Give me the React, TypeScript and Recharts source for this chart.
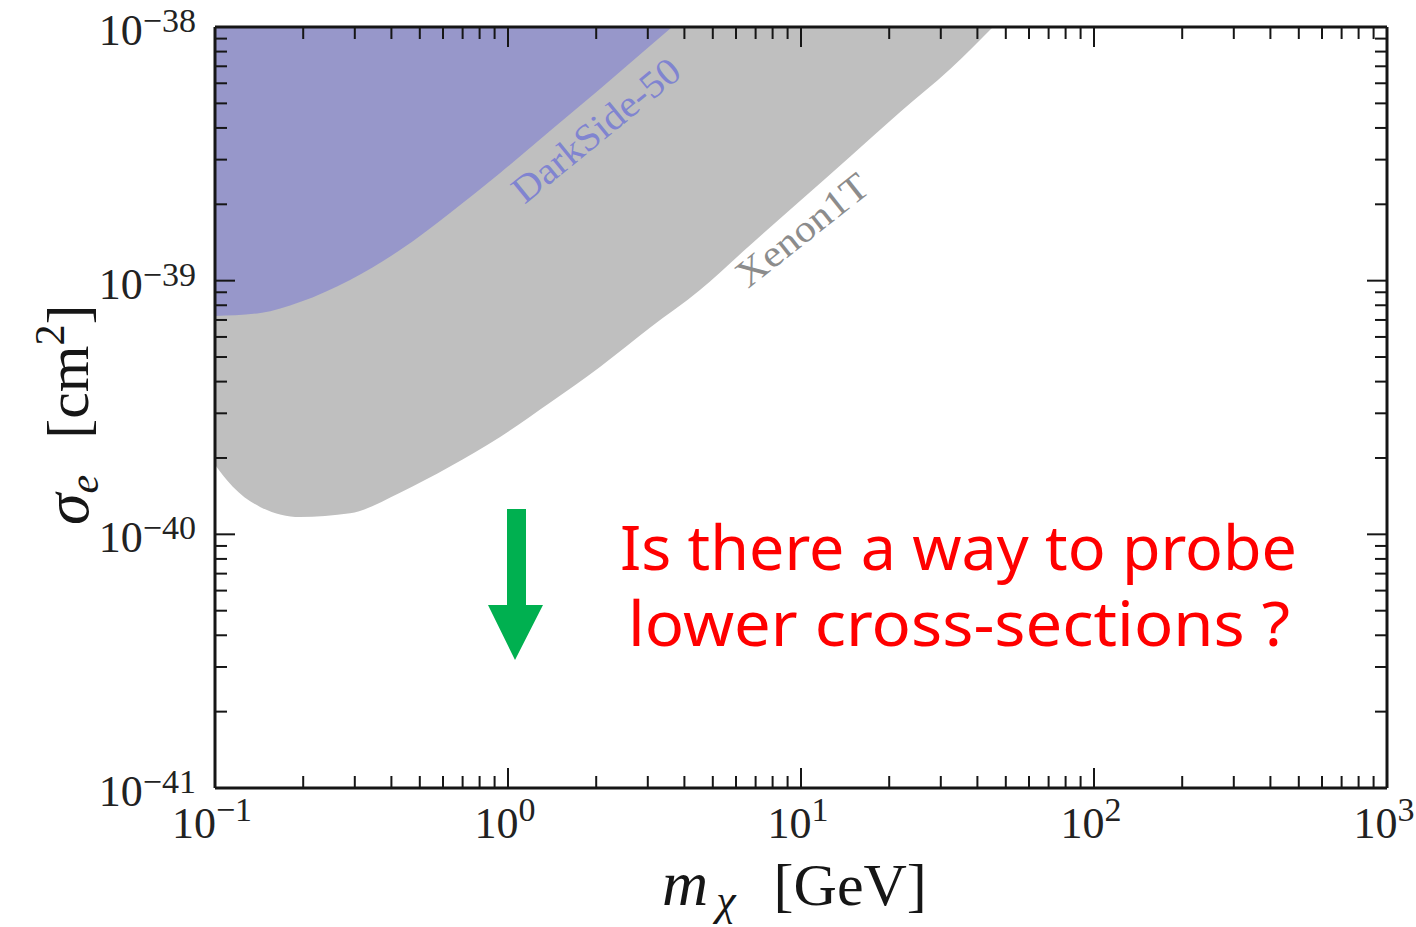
import React from 'react';
import { ComposedChart, Area, XAxis, YAxis } from 'recharts';

// ---- data ----
const darkSideMass = [0.1, 0.143, 0.195, 0.289, 0.428, 0.634, 0.94, 1.39, 2.06, 3.05, 3.63];
const darkSideSigma = [7.26e-40, 7.46e-40, 8.24e-40, 1.007e-39, 1.32e-39, 1.85e-39, 2.66e-39, 3.89e-39, 5.7e-39, 8.41e-39, 1e-38];

const xenonMass = [0.1, 0.115, 0.143, 0.195, 0.289, 0.428, 0.634, 0.94, 1.39, 2.06, 3.05, 4.52, 6.7, 9.92, 14.7, 21.8, 32.3, 45.2];
const xenonSigma = [1.88e-40, 1.54e-40, 1.28e-40, 1.17e-40, 1.21e-40, 1.46e-40, 1.85e-40, 2.42e-40, 3.3e-40, 4.57e-40, 6.52e-40, 9.18e-40, 1.38e-39, 2.06e-39, 3.08e-39, 4.62e-39, 6.83e-39, 1e-38];

const xDomain = [0.1, 1000];
const yDomain = [1e-41, 1e-38];

const xMajor = [0.1, 1, 10, 100, 1000];
const xMajorLabels = ['\u22121', '0', '1', '2', '3'];
const yMajor = [1e-41, 1e-40, 1e-39, 1e-38];
const yMajorLabels = ['\u221241', '\u221240', '\u221239', '\u221238'];
const minorMultipliers = [2, 3, 4, 5, 6, 7, 8, 9];

const xTicks = [
  ...xMajor,
  ...xMajor.slice(0, -1).flatMap((d) => minorMultipliers.map((k) => d * k)),
].sort((a, b) => a - b);
const yTicks = [
  ...yMajor,
  ...yMajor.slice(0, -1).flatMap((d) => minorMultipliers.map((k) => d * k)),
].sort((a, b) => a - b);

const yTop = yDomain[1];
const xenonData = xenonMass.map((m, i) => ({ m, band: [xenonSigma[i], yTop] }));
const darkSideData = darkSideMass.map((m, i) => ({ m, band: [darkSideSigma[i], yTop] }));

const SERIF = "'Liberation Serif', 'Times New Roman', serif";
const INK = '#161616';
const LABEL_INK = '#222222';

const findMajor = (arr: number[], v: number) =>
  arr.findIndex((a) => Math.abs(a - v) / a < 1e-6);

const makeXTick = (side: 'bottom' | 'top') => (props: any) => {
  const { x, y, payload } = props;
  const idx = findMajor(xMajor, payload.value);
  const major = idx >= 0;
  const len = major ? 20 : 12;
  const dir = side === 'bottom' ? -1 : 1;
  return (
    <g>
      <line x1={x} y1={y} x2={x} y2={y + dir * len} stroke={INK} strokeWidth={2} />
      {side === 'bottom' && major && (
        <text x={x - 3} y={y + 50} textAnchor="middle" fontFamily={SERIF} fill={LABEL_INK}>
          <tspan fontSize={44}>10</tspan>
          <tspan fontSize={34} dy={-17}>{xMajorLabels[idx]}</tspan>
        </text>
      )}
    </g>
  );
};

const makeYTick = (side: 'left' | 'right') => (props: any) => {
  const { x, y, payload } = props;
  const idx = findMajor(yMajor, payload.value);
  const major = idx >= 0;
  const len = major ? 20 : 12;
  const dir = side === 'left' ? 1 : -1;
  return (
    <g>
      <line x1={x} y1={y} x2={x + dir * len} y2={y} stroke={INK} strokeWidth={2} />
      {side === 'left' && major && (
        <text x={x - 19} y={y + 18} textAnchor="end" fontFamily={SERIF} fill={LABEL_INK}>
          <tspan fontSize={44}>10</tspan>
          <tspan fontSize={34} dy={-13}>{yMajorLabels[idx]}</tspan>
        </text>
      )}
    </g>
  );
};

const Annotations = () => (
  <svg
    width={1416}
    height={927}
    style={{ position: 'absolute', left: 0, top: 0, pointerEvents: 'none' }}
  >
    {/* curve labels */}
    <text
      x={604}
      y={140}
      transform="rotate(-39.2 604 140)"
      textAnchor="middle"
      fontFamily={SERIF}
      fontSize={38}
      fill="#8084d0"
      textLength={205}
      lengthAdjust="spacingAndGlyphs"
    >
      DarkSide-50
    </text>
    <text
      x={810}
      y={240}
      transform="rotate(-38.4 810 240)"
      textAnchor="middle"
      fontFamily={SERIF}
      fontSize={38}
      fill="#8c8c8c"
      textLength={158}
      lengthAdjust="spacingAndGlyphs"
    >
      Xenon1T
    </text>

    {/* axis titles */}
    <text x={662} y={905} fontFamily={SERIF} fill={INK} fontSize={60}>
      <tspan fontStyle="italic" fontSize={64}>m</tspan>
      <tspan fontStyle="italic" fontSize={44} dy={10} dx={8}>χ</tspan>
      <tspan dy={-10} dx={38}>[GeV]</tspan>
    </text>
    <text x={88} y={525} transform="rotate(-90 88 525)" fontFamily={SERIF} fill={INK} fontSize={60}>
      <tspan fontStyle="italic" fontSize={64}>σ</tspan>
      <tspan fontStyle="italic" fontSize={42} dy={10}>e</tspan>
      <tspan dy={-10} dx={36}>[cm</tspan>
      <tspan fontSize={42} dy={-24}>2</tspan>
      <tspan dy={24}>]</tspan>
    </text>

    {/* arrow */}
    <polygon
      points="507,509 526,509 526,605 543,605 515,660 488,605 507,605"
      fill="#00b050"
    />

    {/* question */}
    <text
      x={620}
      y={570}
      fontFamily="'Comic Sans MS', 'Noto Sans', sans-serif"
      fontSize={62}
      fill="#ff0000"
      textLength={677}
      lengthAdjust="spacingAndGlyphs"
    >
      Is there a way to probe
    </text>
    <text
      x={628}
      y={646}
      fontFamily="'Comic Sans MS', 'Noto Sans', sans-serif"
      fontSize={62}
      fill="#ff0000"
      textLength={662}
      lengthAdjust="spacingAndGlyphs"
    >
      lower cross-sections ?
    </text>
  </svg>
);

export default function App() {
  return (
    <div style={{ position: 'absolute', left: 0, top: 0, width: 1416, height: 927, background: '#fff' }}>
      <ComposedChart width={1416} height={927} margin={{ top: 26, right: 28, bottom: 138, left: 214 }}>
        <Area
          xAxisId="b"
          yAxisId="l"
          data={xenonData}
          dataKey="band"
          type="monotone"
          fill="#bfbfbf"
          fillOpacity={1}
          stroke="none"
          isAnimationActive={false}
        />
        <Area
          xAxisId="b"
          yAxisId="l"
          data={darkSideData}
          dataKey="band"
          type="monotone"
          fill="#9797ca"
          fillOpacity={1}
          stroke="none"
          isAnimationActive={false}
        />
        <XAxis
          xAxisId="b"
          orientation="bottom"
          dataKey="m"
          type="number"
          scale="log"
          domain={xDomain}
          allowDataOverflow
          ticks={xTicks}
          interval={0}
          tick={makeXTick('bottom')}
          tickLine={false}
          tickSize={0}
          tickMargin={0}
          height={1}
          axisLine={{ stroke: INK, strokeWidth: 3 }}
        />
        <XAxis
          xAxisId="t"
          orientation="top"
          dataKey="m"
          type="number"
          scale="log"
          domain={xDomain}
          allowDataOverflow
          ticks={xTicks}
          interval={0}
          tick={makeXTick('top')}
          tickLine={false}
          tickSize={0}
          tickMargin={0}
          height={1}
          axisLine={{ stroke: INK, strokeWidth: 3 }}
        />
        <YAxis
          yAxisId="l"
          orientation="left"
          type="number"
          scale="log"
          domain={yDomain}
          allowDataOverflow
          ticks={yTicks}
          interval={0}
          tick={makeYTick('left')}
          tickLine={false}
          tickSize={0}
          tickMargin={0}
          width={1}
          axisLine={{ stroke: INK, strokeWidth: 3 }}
        />
        <YAxis
          yAxisId="r"
          orientation="right"
          type="number"
          scale="log"
          domain={yDomain}
          allowDataOverflow
          ticks={yTicks}
          interval={0}
          tick={makeYTick('right')}
          tickLine={false}
          tickSize={0}
          tickMargin={0}
          width={1}
          axisLine={{ stroke: INK, strokeWidth: 3 }}
        />
      </ComposedChart>
      <Annotations />
    </div>
  );
}
